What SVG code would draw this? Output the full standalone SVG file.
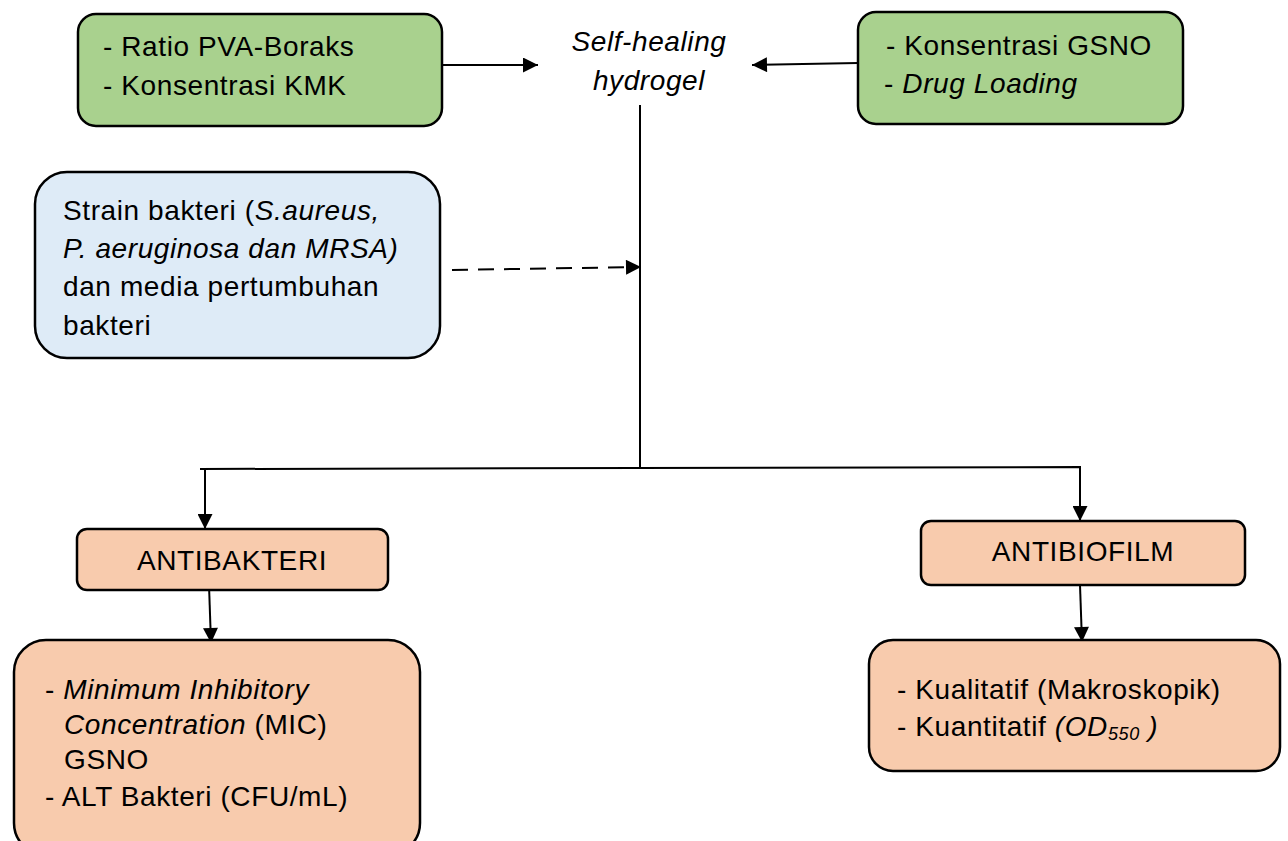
<svg xmlns="http://www.w3.org/2000/svg" width="1288" height="841" viewBox="0 0 1288 841">
<defs>
<style>
.t{font-family:"Liberation Sans",Arial,sans-serif;font-size:28px;letter-spacing:0.6px;fill:#000}
.i{font-style:italic}
.g{fill:#A9D18E;stroke:#000;stroke-width:2.5}
.b{fill:#DEEBF7;stroke:#000;stroke-width:2.5}
.o{fill:#F8CBAD;stroke:#000;stroke-width:2.5}
.c{fill:none;stroke:#000;stroke-width:2}
</style>
<marker id="ah" viewBox="0 0 10 10" refX="10" refY="5" markerWidth="16" markerHeight="15" markerUnits="userSpaceOnUse" orient="auto"><path d="M0,0 L10,5 L0,10 z" fill="#000"/></marker>
</defs>
<rect width="1288" height="841" fill="#fff"/>
<g id="connectors">
<line class="c" x1="440" y1="65" x2="538" y2="65" marker-end="url(#ah)"/>
<line class="c" x1="858" y1="63" x2="752" y2="65" marker-end="url(#ah)"/>
<line class="c" x1="640" y1="105" x2="640" y2="467" stroke-width="1.5"/>
<line class="c" x1="452" y1="270" x2="641" y2="267" stroke-dasharray="16,10" marker-end="url(#ah)"/>
<polyline class="c" points="200,469 1080,467 1080,470" stroke-width="1.5"/>
<line class="c" x1="205" y1="469" x2="205" y2="529" marker-end="url(#ah)"/>
<line class="c" x1="1080" y1="467" x2="1080" y2="521" marker-end="url(#ah)"/>
<line class="c" x1="209" y1="585" x2="211" y2="643" marker-end="url(#ah)"/>
<line class="c" x1="1080" y1="585" x2="1082" y2="642" marker-end="url(#ah)"/>
</g>
<g id="n1">
<rect class="g" x="78" y="14" width="364" height="112" rx="18"/>
<text class="t" x="103" y="56">- Ratio PVA-Boraks</text>
<text class="t" x="103" y="95">- Konsentrasi KMK</text>
</g>
<g id="hydrogel">
<text class="t i" x="649" y="51" text-anchor="middle">Self-healing</text>
<text class="t i" x="649" y="90" text-anchor="middle">hydrogel</text>
</g>
<g id="n2">
<rect class="g" x="858" y="12" width="325" height="112" rx="18"/>
<text class="t" x="886" y="55">- Konsentrasi GSNO</text>
<text class="t" x="884" y="93">- <tspan class="i">Drug Loading</tspan></text>
</g>
<g id="n3">
<rect class="b" x="35" y="172" width="405" height="186" rx="32"/>
<text class="t" x="63" y="220">Strain bakteri (<tspan class="i">S.aureus,</tspan></text>
<text class="t i" x="63" y="258">P. aeruginosa dan MRSA)</text>
<text class="t" x="63" y="296">dan media pertumbuhan</text>
<text class="t" x="63" y="335">bakteri</text>
</g>
<g id="n4">
<rect class="o" x="77" y="529" width="311" height="61" rx="10"/>
<text class="t" x="232" y="570" text-anchor="middle">ANTIBAKTERI</text>
</g>
<g id="n5">
<rect class="o" x="14" y="640" width="406" height="215" rx="32"/>
<text class="t" x="45" y="699">- <tspan class="i">Minimum Inhibitory</tspan></text>
<text class="t" x="64" y="734"><tspan class="i">Concentration</tspan> (MIC)</text>
<text class="t" x="64" y="769">GSNO</text>
<text class="t" x="45" y="806">- ALT Bakteri (CFU/mL)</text>
</g>
<g id="n6">
<rect class="o" x="921" y="521" width="324" height="64" rx="10"/>
<text class="t" x="1083" y="561" text-anchor="middle">ANTIBIOFILM</text>
</g>
<g id="n7">
<rect class="o" x="869" y="640" width="411" height="131" rx="24"/>
<text class="t" x="897" y="699">- Kualitatif (Makroskopik)</text>
<text class="t" x="897" y="736">- Kuantitatif <tspan class="i">(OD</tspan><tspan class="i" font-size="18" dy="4">550</tspan><tspan class="i" dy="-4"> )</tspan></text>
</g>
</svg>
